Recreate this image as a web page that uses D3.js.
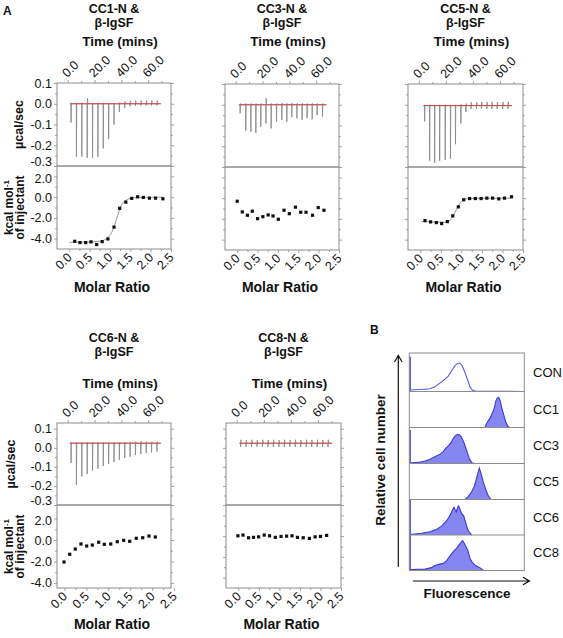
<!DOCTYPE html>
<html><head><meta charset="utf-8">
<script src="https://cdn.jsdelivr.net/npm/d3@7"></script>
<style>
body{margin:0;background:#fff}
svg{display:block}
text{font-family:"Liberation Sans",Arial,Helvetica,sans-serif;fill:#111}
</style>
</head><body>
<svg id="c" width="563" height="638"></svg>
<script>
// ================= DATA =================
const timeTicks = [0, 20, 40, 60];
const timeMinor = [10, 30, 50, 70];
const powerTicks = [0.1, 0.0, -0.1, -0.2, -0.3];
const powerMinor = [0.05, -0.05, -0.15, -0.25];
const heatTicks = [2, 0, -2, -4];
const heatMinor = [1, -1, -3];
const ratioTicks = [0, 0.5, 1.0, 1.5, 2.0, 2.5];
const ratioMinor = [0.25, 0.75, 1.25, 1.75, 2.25];

// CC1-N & beta-IgSF
const cc1Base = 0.0;
const cc1InjTime = [2.4, 6.4, 10.4, 14.4, 18.4, 22.4, 26.4, 30.4, 34.4, 38.4, 42.4, 46.4, 50.4, 54.4, 58.4, 62.4, 66.4];
const cc1InjPeak = [-0.09, -0.255, -0.255, -0.26, -0.26, -0.255, -0.215, -0.17, -0.1, -0.04, -0.02, -0.012, -0.01, -0.008, -0.008, -0.008, -0.008];
const cc1InjOver = [0.004, 0.004, 0.005, 0.026, 0.004, 0.004, 0.004, 0.004, 0.004, 0.006, 0.01, 0.014, 0.015, 0.015, 0.015, 0.015, 0.015];
const cc1Ratio = [0.135, 0.265, 0.405, 0.535, 0.675, 0.81, 0.95, 1.1, 1.24, 1.39, 1.535, 1.68, 1.82, 1.97, 2.12, 2.3];
const cc1Heat = [-4.26, -4.38, -4.38, -4.31, -4.57, -4.29, -4.03, -2.89, -1.08, -0.48, -0.12, 0.03, -0.03, -0.1, -0.1, -0.16];
const cc1FitRatio = [0.0, 0.4, 0.7, 0.85, 0.95, 1.03, 1.1, 1.17, 1.24, 1.31, 1.4, 1.5, 1.65, 1.9, 2.3];
const cc1FitHeat = [-4.35, -4.34, -4.28, -4.15, -3.9, -3.5, -2.9, -2.0, -1.15, -0.6, -0.28, -0.12, -0.05, -0.02, -0.01];

// CC3-N & beta-IgSF
const cc3Base = 0.0;
const cc3InjTime = [3.2, 7.4, 11.2, 14.9, 18.6, 22.4, 26.3, 30.3, 34.3, 38.0, 41.7, 45.5, 49.4, 53.1, 56.9, 60.6, 64.6];
const cc3InjPeak = [-0.041, -0.125, -0.13, -0.135, -0.106, -0.09, -0.114, -0.082, -0.073, -0.082, -0.06, -0.065, -0.073, -0.065, -0.07, -0.05, -0.057];
const cc3InjOver = [0.006, 0.006, 0.006, 0.006, 0.006, 0.031, 0.006, 0.006, 0.008, 0.006, 0.008, 0.006, 0.008, 0.006, 0.006, 0.006, 0.006];
const cc3Ratio = [0.0, 0.125, 0.25, 0.37, 0.5, 0.63, 0.76, 0.88, 1.01, 1.15, 1.28, 1.43, 1.56, 1.69, 1.85, 1.99, 2.13];
const cc3Heat = [-0.3, -1.33, -1.65, -1.26, -1.98, -1.79, -1.62, -1.72, -2.04, -1.17, -1.5, -0.87, -1.36, -1.36, -1.65, -0.91, -1.17];

// CC5-N & beta-IgSF
const cc5Base = -0.004;
const cc5InjTime = [4.2, 7.9, 11.6, 15.3, 19.4, 23.3, 27.0, 31.0, 34.7, 38.5, 42.5, 46.2, 50.2, 53.9, 57.8, 61.9, 65.8];
const cc5InjPeak = [-0.08, -0.27, -0.28, -0.27, -0.265, -0.26, -0.19, -0.09, -0.035, -0.02, -0.02, -0.02, -0.02, -0.02, -0.02, -0.02, -0.02];
const cc5InjOver = [0.0, 0.0, 0.0, 0.0, 0.0, 0.0, 0.0, 0.002, 0.006, 0.012, 0.012, 0.013, 0.012, 0.013, 0.013, 0.014, 0.014];
const cc5Ratio = [0.114, 0.25, 0.39, 0.52, 0.657, 0.79, 0.925, 1.056, 1.2, 1.34, 1.48, 1.62, 1.76, 1.91, 2.05, 2.22];
const cc5Heat = [-2.17, -2.29, -2.36, -2.45, -2.26, -1.71, -0.84, -0.16, -0.04, -0.04, -0.04, 0.0, 0.0, -0.07, 0.0, 0.13];
const cc5FitRatio = [0.03, 0.3, 0.6, 0.7, 0.76, 0.82, 0.88, 0.94, 1.0, 1.07, 1.15, 1.4, 2.22];
const cc5FitHeat = [-2.25, -2.3, -2.33, -2.2, -1.95, -1.55, -1.1, -0.65, -0.32, -0.13, -0.05, -0.02, 0.0];

// CC6-N & beta-IgSF
const cc6Base = 0.024;
const cc6InjTime = [2.4, 6.4, 10.4, 14.4, 18.4, 22.4, 26.4, 30.4, 34.4, 38.4, 42.4, 46.4, 50.4, 54.4, 58.4, 62.4, 66.4];
const cc6InjPeak = [-0.08, -0.195, -0.15, -0.137, -0.12, -0.11, -0.095, -0.085, -0.075, -0.063, -0.053, -0.047, -0.038, -0.032, -0.027, -0.024, -0.02];
const cc6InjOver = [0.028, 0.028, 0.028, 0.028, 0.028, 0.028, 0.028, 0.028, 0.028, 0.03, 0.03, 0.03, 0.032, 0.034, 0.032, 0.032, 0.032];
const cc6Ratio = [-0.01, 0.12, 0.247, 0.377, 0.507, 0.635, 0.78, 0.909, 1.055, 1.205, 1.351, 1.488, 1.638, 1.784, 1.928, 2.072];
const cc6Heat = [-2.05, -1.33, -0.84, -0.37, -0.56, -0.47, -0.21, -0.4, -0.37, -0.16, -0.03, -0.12, 0.16, 0.21, 0.37, 0.28];

// CC8-N & beta-IgSF
const cc8Base = 0.024;
const cc8InjTime = [2.7, 6.7, 10.8, 14.8, 18.9, 22.9, 26.9, 31.0, 35.0, 39.1, 43.1, 47.1, 51.2, 55.2, 59.3, 63.3, 67.3];
const cc8InjPeak = [0.004, 0.005, 0.004, 0.006, 0.004, 0.005, 0.004, 0.005, 0.004, 0.006, 0.004, 0.005, 0.004, 0.005, 0.004, 0.005, 0.004];
const cc8InjOver = [0.042, 0.04, 0.042, 0.04, 0.042, 0.04, 0.042, 0.04, 0.042, 0.04, 0.042, 0.04, 0.042, 0.04, 0.042, 0.04, 0.042];
const cc8Ratio = [-0.01, 0.114, 0.25, 0.37, 0.494, 0.63, 0.76, 0.9, 1.04, 1.175, 1.307, 1.44, 1.58, 1.73, 1.87, 2.0, 2.15];
const cc8Heat = [0.03, 0.1, -0.16, -0.12, -0.07, 0.1, 0.03, -0.12, -0.03, 0.0, 0.03, -0.12, -0.16, -0.22, -0.07, -0.03, 0.07];

// Panel B: flow cytometry histograms (fluorescence 0-100, relative count 0-1)
const histLabels = ["CON", "CC1", "CC3", "CC5", "CC6", "CC8"];
const histFilled = [false, true, true, true, true, true];
const histSpike = [0.9, 0, 0.93, 0, 1.0, 1.0];
const conX = [1.2, 7.8, 13.6, 18, 22.3, 25.2, 28.1, 31, 33.9, 36.8, 39.7, 42, 44, 46.1, 48.4, 50.7, 52.8, 54.8, 57, 100];
const conY = [0.04, 0.05, 0.06, 0.07, 0.12, 0.19, 0.25, 0.32, 0.4, 0.54, 0.67, 0.73, 0.74, 0.66, 0.49, 0.3, 0.12, 0.04, 0.01, 0.0];
const cc1HX = [65.8, 67.3, 70.2, 72.2, 73.9, 75.1, 76.3, 77.7, 78.9, 80.3, 82.1, 83.8, 85.6, 87];
const cc1HY = [0, 0.12, 0.26, 0.4, 0.54, 0.72, 0.81, 0.84, 0.76, 0.56, 0.35, 0.16, 0.04, 0];
const cc3HX = [1.2, 2.1, 7.8, 13.6, 18, 22.3, 26.7, 29.6, 31.6, 33.9, 36.3, 38.3, 40.3, 42.1, 43.8, 45.5, 47.8, 50.2, 52.2, 54.3, 57];
const cc3HY = [0.02, 0.02, 0.03, 0.07, 0.12, 0.19, 0.26, 0.33, 0.42, 0.49, 0.58, 0.7, 0.78, 0.81, 0.79, 0.73, 0.56, 0.33, 0.14, 0.02, 0];
const cc5HX = [48.4, 51.3, 54.3, 56.5, 58, 59.5, 60.9, 62.3, 64.3, 66.7, 68.7, 71];
const cc5HY = [0, 0.08, 0.22, 0.36, 0.54, 0.71, 0.87, 0.73, 0.49, 0.26, 0.1, 0];
const cc6HX = [1.2, 2.1, 10.8, 18, 23.8, 28.1, 31.6, 33.9, 36.3, 37.7, 38.9, 39.7, 40.9, 42.1, 42.9, 44.1, 45.5, 47.3, 49, 50.7, 52.8, 54.3];
const cc6HY = [0.02, 0.02, 0.05, 0.09, 0.16, 0.25, 0.37, 0.47, 0.61, 0.72, 0.78, 0.72, 0.65, 0.78, 0.82, 0.72, 0.61, 0.54, 0.35, 0.16, 0.05, 0];
const cc8HX = [1.2, 2.1, 13.6, 19.4, 22.3, 26.7, 29.6, 32.5, 35.4, 38.3, 41.2, 43.2, 45, 46.4, 47.8, 49, 50.7, 52.8, 54.3, 57.1, 60, 62.3, 64.3];
const cc8HY = [0.03, 0.03, 0.04, 0.08, 0.14, 0.18, 0.2, 0.28, 0.41, 0.53, 0.63, 0.72, 0.79, 0.84, 0.77, 0.69, 0.58, 0.34, 0.25, 0.15, 0.1, 0.06, 0.01];

// ================= LAYOUT =================
const svg = d3.select("#c");
const GRAY = "#8c8c8c";
const TICKFONT = "12.5px";
const rowsY = [
  {t1: 12.5, t2: 26.5, time: 46, molar: 291.5},
  {t1: 341.5, t2: 355.5, time: 388, molar: 629}
];
const panels = [
  {title: "CC1-N &", row: 0, x0: 57, x1: 171, yT: 83, yM: 166, yB: 249, lab: true, yt: 23,
   pDom: [-0.3, 0.1], hDom: [-5, 3], rDom: [-0.3, 2.5],
   base: cc1Base, t: cc1InjTime, pk: cc1InjPeak, ov: cc1InjOver, r: cc1Ratio, h: cc1Heat, fr: cc1FitRatio, fh: cc1FitHeat},
  {title: "CC3-N &", row: 0, x0: 225, x1: 339, yT: 84, yM: 167, yB: 250, lab: false,
   pDom: [-0.3, 0.1], hDom: [-5, 3], rDom: [-0.3, 2.5],
   base: cc3Base, t: cc3InjTime, pk: cc3InjPeak, ov: cc3InjOver, r: cc3Ratio, h: cc3Heat},
  {title: "CC5-N &", row: 0, x0: 408, x1: 523, yT: 84, yM: 167, yB: 250, lab: false,
   pDom: [-0.3, 0.1], hDom: [-5, 3], rDom: [-0.3, 2.5],
   base: cc5Base, t: cc5InjTime, pk: cc5InjPeak, ov: cc5InjOver, r: cc5Ratio, h: cc5Heat, fr: cc5FitRatio, fh: cc5FitHeat},
  {title: "CC6-N &", row: 1, x0: 57, x1: 171, yT: 423, yM: 505, yB: 588, lab: true, yt: 15,
   pDom: [-0.3, 0.13], hDom: [-4.47, 3.26], rDom: [-0.17, 2.43],
   base: cc6Base, t: cc6InjTime, pk: cc6InjPeak, ov: cc6InjOver, r: cc6Ratio, h: cc6Heat},
  {title: "CC8-N &", row: 1, x0: 226, x1: 341, yT: 423, yM: 505, yB: 588, lab: false,
   pDom: [-0.3, 0.13], hDom: [-5, 3], rDom: [-0.3, 2.5],
   base: cc8Base, t: cc8InjTime, pk: cc8InjPeak, ov: cc8InjOver, r: cc8Ratio, h: cc8Heat}
];

function styleAxis(g) {
  g.select(".domain").remove();
  g.selectAll(".tick line").attr("stroke", GRAY).attr("stroke-width", 0.8);
  g.selectAll(".tick text").attr("fill", "#111").style("font-size", TICKFONT)
    .style("font-family", '"Liberation Sans",Arial,sans-serif');
}

panels.forEach(p => {
  const R = rowsY[p.row];
  const g = svg.append("g");
  const xT = d3.scaleLinear().domain([-8, 77]).range([p.x0, p.x1]);
  const yP = d3.scaleLinear().domain(p.pDom).range([p.yM, p.yT]);
  const xR = d3.scaleLinear().domain(p.rDom).range([p.x0, p.x1]);
  const yH = d3.scaleLinear().domain(p.hDom).range([p.yB, p.yM]);
  const cx = (p.x0 + p.x1) / 2;

  // two-line title
  g.append("text").attr("x", cx).attr("y", R.t1).attr("text-anchor", "middle")
    .style("font-weight", "bold").style("font-size", "12.5px").text(p.title);
  g.append("text").attr("x", cx).attr("y", R.t2).attr("text-anchor", "middle")
    .style("font-weight", "bold").style("font-size", "12.5px").text("β-IgSF");
  g.append("text").attr("x", cx + 6).attr("y", R.time).attr("text-anchor", "middle")
    .style("font-weight", "bold").style("font-size", "13.5px").text("Time (mins)");
  g.append("text").attr("x", cx - 2).attr("y", R.molar).attr("text-anchor", "middle")
    .style("font-weight", "bold").style("font-size", "14px").text("Molar Ratio");

  // ---- upper thermogram axes ----
  const fmt = d => d.toFixed(1);
  const la = g.append("g").attr("transform", `translate(${p.x0},0)`)
    .call(d3.axisLeft(yP).tickValues(powerTicks).tickSize(3).tickPadding(2).tickFormat(p.lab ? fmt : () => ""));
  styleAxis(la);
  la.selectAll(".tick text").filter(d => d === -0.3).attr("dy", "-0.05em");
  styleAxis(g.append("g").attr("transform", `translate(${p.x0},0)`)
    .call(d3.axisLeft(yP).tickValues(powerMinor).tickSize(2).tickFormat(() => "")));
  styleAxis(g.append("g").attr("transform", `translate(${p.x1},0)`)
    .call(d3.axisRight(yP).tickValues(powerTicks).tickSize(3).tickFormat(() => "")));
  styleAxis(g.append("g").attr("transform", `translate(${p.x1},0)`)
    .call(d3.axisRight(yP).tickValues(powerMinor).tickSize(2).tickFormat(() => "")));
  const ta = g.append("g").attr("transform", `translate(0,${p.yT})`)
    .call(d3.axisTop(xT).tickValues(timeTicks).tickSize(3).tickFormat(fmt));
  styleAxis(ta);
  ta.selectAll(".tick text").attr("text-anchor", "start").attr("x", 0).attr("y", 0).attr("dy", 0)
    .attr("transform", "translate(-1,-5) rotate(-45)");
  styleAxis(g.append("g").attr("transform", `translate(0,${p.yT})`)
    .call(d3.axisTop(xT).tickValues(timeMinor).tickSize(2).tickFormat(() => "")));

  // ---- lower isotherm axes ----
  const lb = g.append("g").attr("transform", `translate(${p.x0},0)`)
    .call(d3.axisLeft(yH).tickValues(heatTicks).tickSize(3).tickPadding(2).tickFormat(p.lab ? fmt : () => ""));
  styleAxis(lb);
  lb.selectAll(".tick text").filter(d => d === 2).attr("dy", "0.45em");
  styleAxis(g.append("g").attr("transform", `translate(${p.x0},0)`)
    .call(d3.axisLeft(yH).tickValues(heatMinor).tickSize(2).tickFormat(() => "")));
  styleAxis(g.append("g").attr("transform", `translate(${p.x1},0)`)
    .call(d3.axisRight(yH).tickValues(heatTicks).tickSize(3).tickFormat(() => "")));
  styleAxis(g.append("g").attr("transform", `translate(${p.x1},0)`)
    .call(d3.axisRight(yH).tickValues(heatMinor).tickSize(2).tickFormat(() => "")));
  const ba = g.append("g").attr("transform", `translate(0,${p.yB})`)
    .call(d3.axisBottom(xR).tickValues(ratioTicks).tickSize(3).tickFormat(fmt));
  styleAxis(ba);
  ba.selectAll(".tick text").attr("text-anchor", "end").attr("x", 0).attr("y", 0).attr("dy", 0)
    .attr("transform", "translate(3,9) rotate(-45)");
  styleAxis(g.append("g").attr("transform", `translate(0,${p.yB})`)
    .call(d3.axisBottom(xR).tickValues(ratioMinor).tickSize(2).tickFormat(() => "")));

  // boxes
  g.append("rect").attr("x", p.x0).attr("y", p.yT).attr("width", p.x1 - p.x0).attr("height", p.yM - p.yT)
    .attr("fill", "none").attr("stroke", GRAY).attr("stroke-width", 1);
  g.append("rect").attr("x", p.x0).attr("y", p.yM).attr("width", p.x1 - p.x0).attr("height", p.yB - p.yM)
    .attr("fill", "none").attr("stroke", GRAY).attr("stroke-width", 1);

  // thermogram trace
  const pts = [[p.t[0] - 1, p.base]];
  p.t.forEach((ti, i) => {
    pts.push([ti, p.base], [ti + 0.1, p.pk[i]], [ti + 0.3, p.ov[i]], [ti + 0.6, p.base]);
  });
  pts.push([p.t[p.t.length - 1] + 3, p.base]);
  g.append("path").datum(pts)
    .attr("d", d3.line().x(d => xT(d[0])).y(d => yP(d[1])))
    .attr("fill", "none").attr("stroke", "#8a8a8a").attr("stroke-width", 0.9);
  g.append("path").datum([p.t[0] - 0.5, p.t[p.t.length - 1] + 3])
    .attr("d", d3.line().x(d => xT(d)).y(() => yP(p.base)))
    .attr("stroke", "#d83a3a").attr("stroke-width", 0.9).attr("fill", "none");

  // fit line
  if (p.fr) {
    g.append("path").datum(p.fr.map((r, i) => [r, p.fh[i]]))
      .attr("d", d3.line().curve(d3.curveMonotoneX).x(d => xR(d[0])).y(d => yH(d[1])))
      .attr("fill", "none").attr("stroke", "#999").attr("stroke-width", 1);
  }
  // points
  g.selectAll(".pt").data(p.r.map((r, i) => [r, p.h[i]])).enter().append("rect")
    .attr("x", d => xR(d[0]) - 1.6).attr("y", d => yH(d[1]) - 1.6)
    .attr("width", 3.2).attr("height", 3.2).attr("fill", "#111");

  // y-axis titles
  if (p.lab) {
    const my = (p.yT + p.yM) / 2, ly = (p.yM + p.yB) / 2;
    g.append("text").attr("transform", `translate(${p.yt},${my}) rotate(-90)`).attr("text-anchor", "middle")
      .style("font-weight", "bold").style("font-size", "12.5px").text("µcal/sec");
    const k = g.append("text").attr("transform", `translate(13,${ly}) rotate(-90)`)
      .style("font-weight", "bold").style("font-size", "12px");
    const l1 = k.append("tspan").attr("x", 0).attr("y", 0).attr("text-anchor", "middle");
    l1.append("tspan").text("kcal mol");
    l1.append("tspan").attr("dy", -4).style("font-size", "8px").text("-1");
    k.append("tspan").attr("x", 0).attr("y", 11).attr("text-anchor", "middle").text("of injectant");
  }
});

// panel letters
svg.append("text").attr("x", 3).attr("y", 15).style("font-weight", "bold").style("font-size", "12px").text("A");
svg.append("text").attr("x", 370).attr("y", 334).style("font-weight", "bold").style("font-size", "12px").text("B");

// ================= PANEL B =================
const hx0 = 409.3, hx1 = 524.3;
const rowEdges = [353, 391.5, 427.5, 463.5, 499.5, 535, 570.5];
const xF = d3.scaleLinear().domain([0, 100]).range([hx0, hx1]);
const histX = [conX, cc1HX, cc3HX, cc5HX, cc6HX, cc8HX];
const histY = [conY, cc1HY, cc3HY, cc5HY, cc6HY, cc8HY];
const gB = svg.append("g");
histLabels.forEach((lab, i) => {
  const yC = d3.scaleLinear().domain([0, 1]).range([rowEdges[i + 1], rowEdges[i]]);
  const data = histX[i].map((x, j) => [x, histY[i][j]]);
  if (histFilled[i]) {
    gB.append("path").datum(data)
      .attr("d", d3.area().x(d => xF(d[0])).y0(yC(0)).y1(d => yC(d[1])))
      .attr("fill", "#8686f0").attr("stroke", "none");
  }
  gB.append("path").datum(data)
    .attr("d", d3.line().x(d => xF(d[0])).y(d => yC(d[1])))
    .attr("fill", "none").attr("stroke", histFilled[i] ? "#3a3ad8" : "#5a5af0").attr("stroke-width", 1.1);
  if (histSpike[i] > 0) {
    gB.append("path").datum([0, histSpike[i]])
      .attr("d", d3.line().x(() => xF(0.7)).y(d => yC(d)))
      .attr("stroke", "#3a3ad8").attr("stroke-width", 1.4);
  }
  gB.append("text").attr("x", 533).attr("y", (rowEdges[i] + rowEdges[i + 1]) / 2 + 4.5)
    .style("font-size", "13px").text(lab);
});
rowEdges.slice(1, -1).forEach(y => {
  gB.append("line").attr("x1", hx0).attr("x2", hx1).attr("y1", y).attr("y2", y).attr("stroke", GRAY).attr("stroke-width", 1);
});
gB.append("rect").attr("x", hx0).attr("y", rowEdges[0]).attr("width", hx1 - hx0)
  .attr("height", rowEdges[6] - rowEdges[0]).attr("fill", "none").attr("stroke", GRAY).attr("stroke-width", 1);

// arrows
gB.append("path").attr("d", "M398.3,566.7V355.5M394.5,362L398.3,355.5L402.1,362")
  .attr("fill", "none").attr("stroke", "#111").attr("stroke-width", 1.2);
gB.append("path").attr("d", "M413,581H529.5M523,577.2L529.5,581L523,584.8")
  .attr("fill", "none").attr("stroke", "#111").attr("stroke-width", 1.2);
gB.append("text").attr("transform", "translate(385,460) rotate(-90)").attr("text-anchor", "middle")
  .style("font-weight", "bold").style("font-size", "13.5px").text("Relative cell number");
gB.append("text").attr("x", 467).attr("y", 598).attr("text-anchor", "middle")
  .style("font-weight", "bold").style("font-size", "13.5px").text("Fluorescence");
</script>
</body></html>
